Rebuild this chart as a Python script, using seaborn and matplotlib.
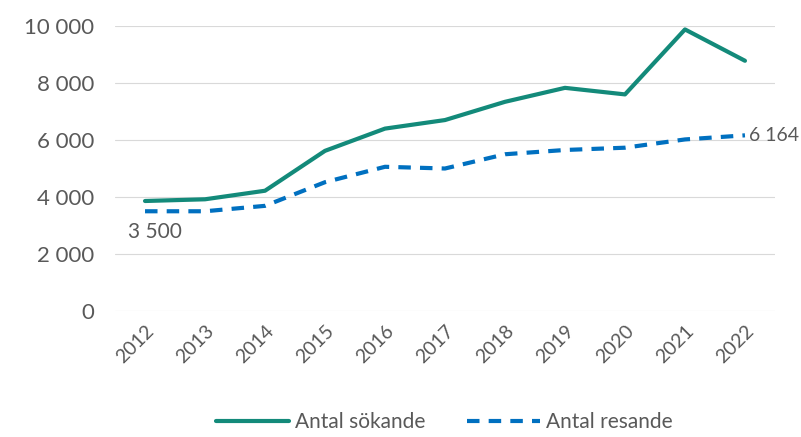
import pandas as pd
import numpy as np
import matplotlib
matplotlib.use("Agg")
import matplotlib.pyplot as plt
import seaborn as sns

years = [2012, 2013, 2014, 2015, 2016, 2017, 2018, 2019, 2020, 2021, 2022]
sokande = [3860, 3920, 4220, 5620, 6400, 6700, 7340, 7830, 7600, 9880, 8780]
resande = [3500, 3500, 3690, 4520, 5060, 5000, 5500, 5650, 5730, 6020, 6164]
yticks = [0, 2000, 4000, 6000, 8000, 10000]

df = pd.DataFrame({"year": years, "Antal sökande": sokande, "Antal resande": resande})

sns.set_style("white")
plt.rcParams['font.family'] = ['Lato', 'DejaVu Sans']
grey = "#595959"

fig = plt.figure(figsize=(8.01, 4.37), dpi=100)
ax = fig.add_axes([0.1436, 0.2883, 0.8239, 0.6522])

sns.lineplot(data=df, x="year", y="Antal sökande", ax=ax, color="#138A7A",
             linewidth=3, label="Antal sökande")
sns.lineplot(data=df, x="year", y="Antal resande", ax=ax, color="#0070C0",
             linewidth=3, linestyle=(0, (3, 2.2)), label="Antal resande")

ax.set_xlim(2011.5, 2022.5)
ax.set_ylim(0, 10000)
ax.set_yticks(yticks)
ax.set_yticklabels([f"{v:,}".replace(",", " ") for v in yticks], color=grey, fontsize=16)
ax.set_xticks(years)
ax.set_xticklabels([str(y) for y in years], rotation=45, ha="right",
                   rotation_mode="anchor", color=grey, fontsize=14)
ax.tick_params(axis="y", length=0, pad=15)
ax.tick_params(axis="x", length=0, pad=8)
ax.set_xlabel("")
ax.set_ylabel("")
ax.grid(axis="y", color="#d9d9d9", linewidth=0.8)
for s in ax.spines.values():
    s.set_visible(False)

ax.annotate("3 500", (years[0], resande[0]), xytext=(-12, -15), textcoords="offset points",
            color=grey, fontsize=15, va="center", ha="left")
ax.annotate("6 164", (years[-1], resande[-1]), xytext=(3, 0), textcoords="offset points",
            color=grey, fontsize=14, va="center", ha="left")

handles, labels = ax.get_legend_handles_labels()
ax.get_legend().remove()
leg = fig.legend(handles, labels, loc="lower center", bbox_to_anchor=(0.555, 0.0),
                 ncol=2, frameon=False, fontsize=15, handlelength=3.5,
                 handletextpad=0.3, columnspacing=2.0, borderaxespad=0.25, borderpad=0.0)
for t in leg.get_texts():
    t.set_color(grey)

fig.savefig("out.png", dpi=100)
